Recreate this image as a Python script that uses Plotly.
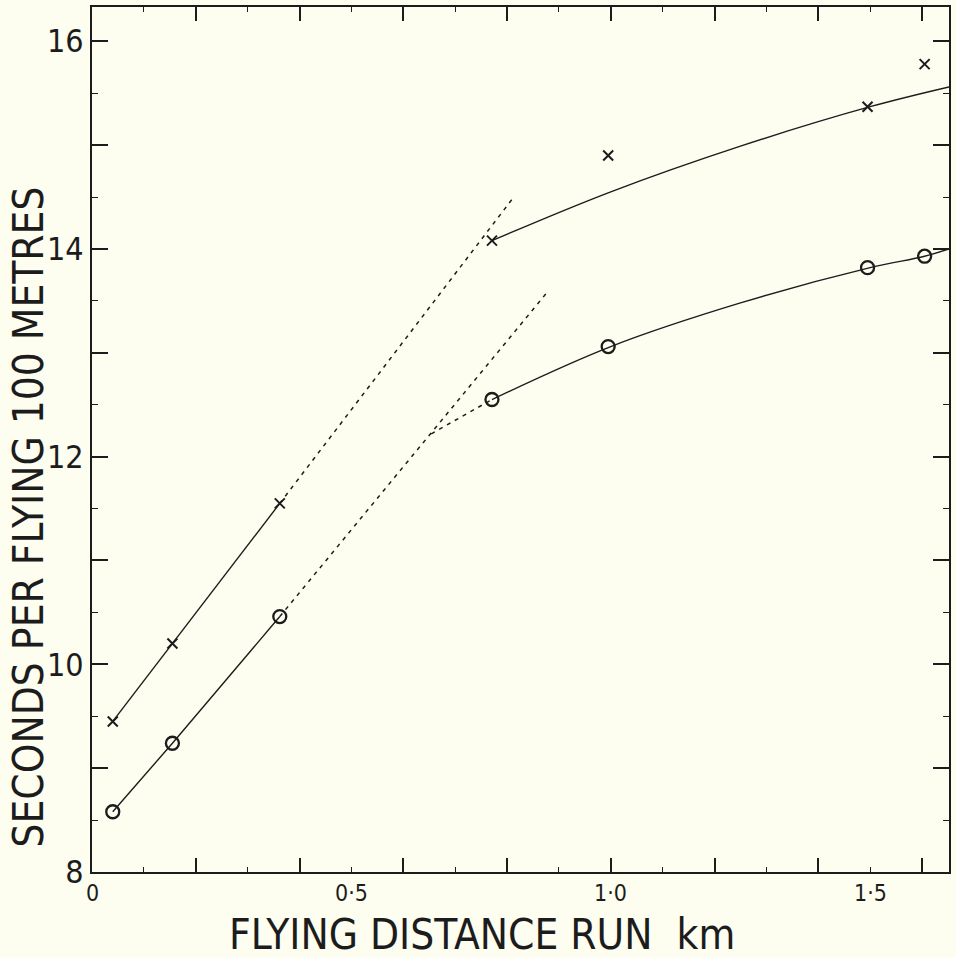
import plotly.graph_objects as go

# ---- data ----
# x = flying distance run (km); y = seconds per flying 100 metres
cross_early_x = [0.04, 0.155, 0.362]
cross_early_y = [9.45, 10.20, 11.55]
circle_early_x = [0.04, 0.155, 0.362]
circle_early_y = [8.58, 9.24, 10.46]

cross_late_x = [0.771, 0.995, 1.495, 1.605]
cross_late_y = [14.08, 14.90, 15.37, 15.78]
circle_late_x = [0.771, 0.995, 1.495, 1.605]
circle_late_y = [12.55, 13.06, 13.82, 13.93]

# fitted curves
cross_curve_x = [0.771, 1.0, 1.25, 1.5, 1.652]
cross_curve_y = [14.08, 14.55, 14.99, 15.37, 15.56]
circle_curve_x = [0.771, 1.0, 1.25, 1.5, 1.605, 1.652]
circle_curve_y = [12.55, 13.06, 13.48, 13.82, 13.93, 14.00]

# dashed extrapolations
cross_dash_x = [0.362, 0.813]
cross_dash_y = [11.55, 14.50]
circle_dash_x = [0.362, 0.877]
circle_dash_y = [10.46, 13.58]
circle_join_x = [0.654, 0.771]
circle_join_y = [12.22, 12.55]

x_label_vals = [0, 0.5, 1.0, 1.5]
x_label_text = ["0", "0·5", "1·0", "1·5"]
y_tick_vals = [8, 9, 10, 11, 12, 13, 14, 15, 16]
y_tick_text = ["8", "", "10", "", "12", "", "14", "", "16"]

INK = "#1c1c1c"
BG = "#fdfdf0"
FONT = "Liberation Sans Narrow, DejaVu Sans Condensed, Arial Narrow, sans-serif"

fig = go.Figure()

line_solid = dict(color=INK, width=1.4)
line_dash = dict(color=INK, width=1.5, dash="4px,5px")
cross_marker = dict(symbol="x-thin-open", size=10, line=dict(color=INK, width=2), color=INK)
circle_marker = dict(symbol="circle-open", size=13, line=dict(color=INK, width=2.3), color=INK)

fig.add_trace(go.Scatter(x=cross_dash_x, y=cross_dash_y, mode="lines", line=line_dash))
fig.add_trace(go.Scatter(x=circle_dash_x, y=circle_dash_y, mode="lines", line=line_dash))
fig.add_trace(go.Scatter(x=circle_join_x, y=circle_join_y, mode="lines", line=line_dash))

fig.add_trace(go.Scatter(x=cross_curve_x, y=cross_curve_y, mode="lines",
                         line=dict(color=INK, width=1.4, shape="spline", smoothing=1.0)))
fig.add_trace(go.Scatter(x=circle_curve_x, y=circle_curve_y, mode="lines",
                         line=dict(color=INK, width=1.4, shape="spline", smoothing=1.0)))

fig.add_trace(go.Scatter(x=cross_early_x, y=cross_early_y, mode="lines+markers",
                         line=line_solid, marker=cross_marker))
fig.add_trace(go.Scatter(x=circle_early_x, y=circle_early_y, mode="lines+markers",
                         line=line_solid, marker=circle_marker))
fig.add_trace(go.Scatter(x=cross_late_x, y=cross_late_y, mode="markers", marker=cross_marker))
fig.add_trace(go.Scatter(x=circle_late_x, y=circle_late_y, mode="markers", marker=circle_marker))

for v, t in zip(x_label_vals, x_label_text):
    fig.add_annotation(x=v, y=0, xref="x", yref="paper", text=t, showarrow=False,
                       yanchor="top", yshift=-6, font=dict(family=FONT, size=23, color=INK))

fig.add_annotation(x=0.455, y=0, xref="paper", yref="paper",
                   text="FLYING DISTANCE RUN  km", showarrow=False,
                   yanchor="middle", yshift=-62,
                   font=dict(family=FONT, size=42, color=INK))
fig.add_annotation(x=-0.0745, y=0.41, xref="paper", yref="paper",
                   text="SECONDS PER FLYING 100 METRES", showarrow=False,
                   textangle=-90, xanchor="center", yanchor="middle",
                   font=dict(family=FONT, size=42, color=INK))

fig.update_layout(
    width=956, height=958,
    margin=dict(l=92, r=5, t=6, b=86),
    paper_bgcolor=BG, plot_bgcolor=BG,
    showlegend=False,
    xaxis=dict(range=[0, 1.652], showgrid=False, zeroline=False,
               showline=True, linecolor=INK, linewidth=2, mirror="ticks",
               ticks="inside", tick0=0, dtick=0.2, ticklen=14, tickwidth=1.5, tickcolor=INK,
               showticklabels=False,
               minor=dict(ticks="inside", dtick=0.1, tick0=0, ticklen=5, tickwidth=1.3, tickcolor=INK)),
    yaxis=dict(range=[8, 16.33], showgrid=False, zeroline=False,
               showline=True, linecolor=INK, linewidth=2, mirror="ticks",
               ticks="inside", tickvals=y_tick_vals, ticktext=y_tick_text,
               ticklen=16, tickwidth=1.5, tickcolor=INK,
               tickfont=dict(family=FONT, size=32, color=INK),
               minor=dict(ticks="inside", dtick=0.5, tick0=8, ticklen=6, tickwidth=1.3, tickcolor=INK)),
)

fig.write_html("out.html")
